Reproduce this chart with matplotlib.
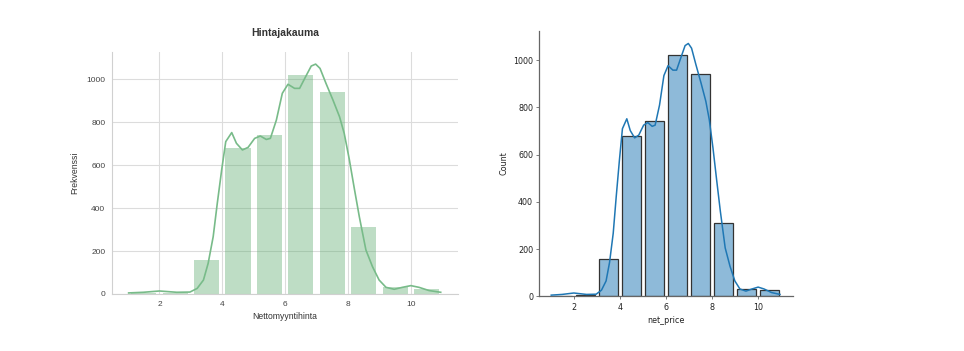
import matplotlib.pyplot as plt
import numpy as np

# histogram: bin edges 1..11, counts
bin_left = [1, 2, 3, 4, 5, 6, 7, 8, 9, 10]
counts = [3, 6, 159, 678, 742, 1022, 942, 310, 32, 25]

# kde curve (scaled to counts)
kde_x = [1.02, 1.49, 2.0, 2.55, 2.97, 3.2, 3.4, 3.55, 3.71, 3.84, 3.98, 4.11, 4.3,
         4.45, 4.64, 4.82, 5.03, 5.21, 5.4, 5.53, 5.72, 5.91, 6.09, 6.3, 6.46, 6.65,
         6.83, 6.97, 7.11, 7.3, 7.52, 7.73, 7.88, 8.04, 8.2, 8.36, 8.57, 8.78, 8.99,
         9.21, 9.47, 9.73, 10.0, 10.26, 10.58, 10.95]
kde_y = [5, 8, 14, 8, 9, 26, 65, 143, 267, 422, 578, 710, 752,
         702, 671, 683, 725, 736, 720, 725, 810, 935, 977, 958, 958, 1012,
         1062, 1071, 1051, 981, 904, 826, 748, 628, 492, 360, 205, 127, 65,
         31, 22, 31, 39, 31, 16, 8]

centers = np.array(bin_left) + 0.5

fig = plt.figure(figsize=(9.64, 3.51), dpi=100)

# left: styled chart
ax1 = fig.add_axes([0.1165, 0.1624, 0.3586, 0.6886])
lab = dict(family=['Liberation Sans', 'DejaVu Sans'], color='#333333')
ax1.bar(centers, counts, width=0.8, color='#55a868', alpha=0.38, linewidth=0, zorder=2)
ax1.plot(kde_x, kde_y, color='#78bb89', lw=1.2, zorder=3)
ax1.set_xlim(0.5, 11.5)
ax1.set_ylim(0, 1126)
ax1.set_yticks([0, 200, 400, 600, 800, 1000])
ax1.set_xticks([2, 4, 6, 8, 10])
ax1.grid(True, color='#dcdcdc', lw=0.8, zorder=0)
ax1.set_axisbelow(True)
for s in ['top', 'right']:
    ax1.spines[s].set_visible(False)
for s in ['left', 'bottom']:
    ax1.spines[s].set_color('#d0d0d0')
    ax1.spines[s].set_linewidth(0.8)
ax1.tick_params(length=0, labelsize=6, labelcolor='#444444', pad=5)
for t in ax1.get_xticklabels() + ax1.get_yticklabels():
    t.set_family(['Liberation Sans', 'DejaVu Sans'])
ax1.set_title('Hintajakauma', fontsize=7.5, fontweight='bold', pad=12, **lab)
ax1.set_xlabel('Nettomyyntihinta', fontsize=6.2, labelpad=3, **lab)
ax1.set_ylabel('Frekvenssi', fontsize=6.2, labelpad=5, **lab)

# right: plain seaborn-like histplot
ax2 = fig.add_axes([0.5594, 0.1558, 0.2629, 0.7567])
ax2.bar(centers, counts, width=0.8, color='#1f77b4', alpha=0.5, zorder=2)
ax2.bar(centers, counts, width=0.8, fill=False, edgecolor='#333333', linewidth=0.9, zorder=2)
ax2.plot(kde_x, kde_y, color='#1f77b4', lw=1.1, zorder=3)
ax2.set_xlim(0.5, 11.5)
ax2.set_ylim(0, 1125)
ax2.set_yticks([0, 200, 400, 600, 800, 1000])
ax2.set_xticks([2, 4, 6, 8, 10])
for s in ['top', 'right']:
    ax2.spines[s].set_visible(False)
for s in ['left', 'bottom']:
    ax2.spines[s].set_color('#666666')
    ax2.spines[s].set_linewidth(0.9)
ax2.tick_params(length=2.5, width=0.6, color='#666666', labelsize=5.8, labelcolor='#222222', pad=2)
ax2.set_xlabel('net_price', fontsize=5.8, color='#222222', labelpad=3)
ax2.set_ylabel('Count', fontsize=5.8, color='#222222', labelpad=3)

fig.savefig('out.png', dpi=100)
